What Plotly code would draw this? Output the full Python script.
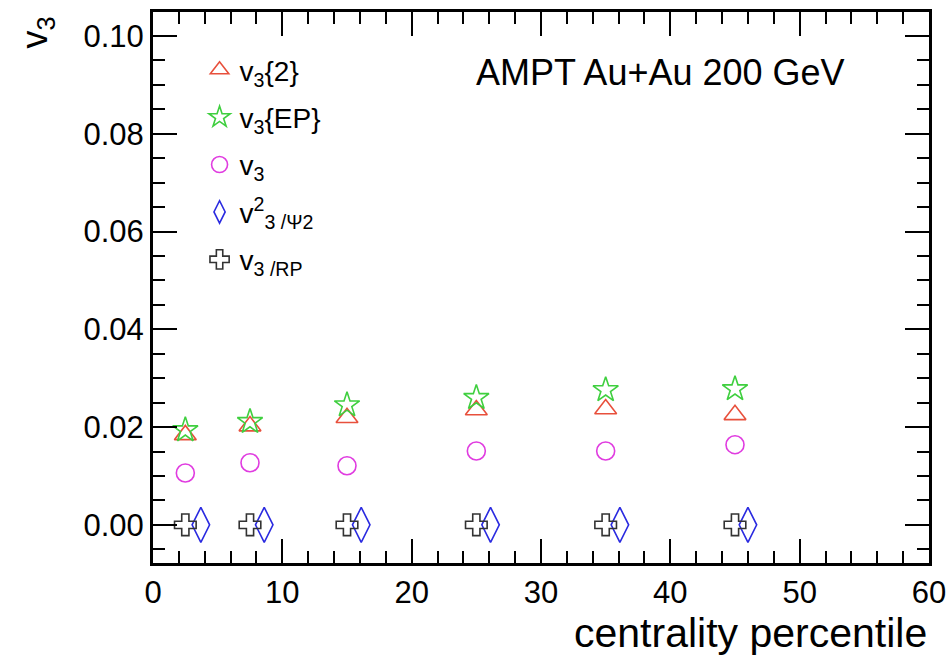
import plotly.graph_objects as go

# Data
cent = [2.5, 7.5, 15, 25, 35, 45]
cent_psi2 = [3.7, 8.6, 16.1, 26.1, 36.1, 46.0]
v3_2 = [0.0184, 0.0202, 0.0219, 0.0235, 0.0237, 0.0225]
v3_ep = [0.0194, 0.0211, 0.0245, 0.0260, 0.0276, 0.0278]
v3 = [0.0106, 0.0127, 0.0121, 0.0151, 0.0151, 0.0164]
v3_psi2 = [0.0, 0.0, 0.0, 0.0, 0.0, 0.0]
v3_rp = [0.0, 0.0, 0.0, 0.0, 0.0, 0.0]

FONT = "Liberation Sans, Arial, Helvetica, sans-serif"

fig = go.Figure()

series = [
    (cent, v3_2, "v<sub>3</sub>{2}", "triangle-up-open", "#e8503c", 19),
    (cent, v3_ep, "v<sub>3</sub>{EP}", "star-open", "#3fcf3f", 19),
    (cent, v3, "v<sub>3</sub>", "circle-open", "#e03ce0", 18),
    (cent_psi2, v3_psi2, "v<sup>2</sup><sub>3 /Ψ2</sub>", "diamond-tall-open", "#2a2ae0", 25),
    (cent, v3_rp, "v<sub>3 /RP</sub>", "cross-open", "#333333", 18),
]
for i, (x, y, name, sym, col, sz) in enumerate(series):
    fig.add_trace(go.Scatter(
        x=x, y=y, mode="markers", name=name, legendgroup=str(i),
        marker=dict(symbol=sym, size=sz, color=col, line=dict(color=col, width=1.6)),
    ))

axis_common = dict(
    showline=True, linecolor="black", linewidth=3, mirror="allticks",
    ticks="inside", tickcolor="black", tickwidth=1.5,
    showgrid=False, zeroline=False, automargin=False,
    tickfont=dict(family=FONT, size=31, color="black"),
)

fig.update_xaxes(
    range=[0, 60], tick0=0, dtick=10, ticklen=24,
    minor=dict(dtick=2, ticklen=12, ticks="inside", tickcolor="black", tickwidth=1.5),
    **axis_common,
)
fig.update_yaxes(
    range=[-0.0078, 0.1049], tick0=0, dtick=0.02, tickformat=".2f", ticklen=24,
    minor=dict(dtick=0.005, ticklen=12, ticks="inside", tickcolor="black", tickwidth=1.5),
    **axis_common,
)

fig.add_annotation(
    x=1.0, y=-0.082, xref="paper", yref="paper", xanchor="right", yanchor="top",
    text="centrality percentile", showarrow=False,
    font=dict(family=FONT, size=41, color="black"),
)
fig.add_annotation(
    x=0.894, y=0.891, xref="paper", yref="paper", xanchor="right", yanchor="middle",
    text="AMPT Au+Au 200 GeV", showarrow=False,
    font=dict(family=FONT, size=36, color="black"),
)
fig.add_annotation(
    x=-0.182, y=0.995, xref="paper", yref="paper", xanchor="left", yanchor="top",
    text="v<sub>3</sub>", textangle=-90, showarrow=False,
    font=dict(family=FONT, size=36, color="black"),
)

fig.update_layout(
    width=948, height=661,
    margin=dict(l=153, r=19, t=12, b=98),
    paper_bgcolor="white", plot_bgcolor="white",
    showlegend=True,
    legend=dict(
        x=0.06, y=0.94, xanchor="left", yanchor="top",
        bgcolor="rgba(0,0,0,0)", borderwidth=0,
        font=dict(family=FONT, size=28, color="black"),
        traceorder="grouped", tracegroupgap=8,
        itemsizing="trace",
    ),
)

fig.write_html("out.html")
